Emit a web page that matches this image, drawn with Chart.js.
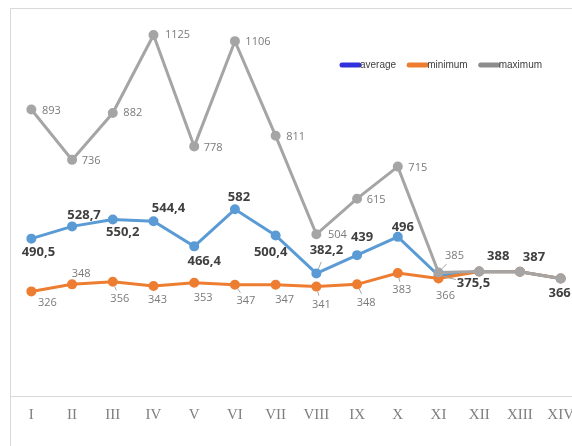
<!DOCTYPE html>
<html>
<head>
<meta charset="utf-8">
<script src="https://cdn.jsdelivr.net/npm/chart.js@4.4.1/dist/chart.umd.min.js"></script>
<style>
  html, body { margin: 0; padding: 0; background: #fff; overflow: hidden; }
</style>
</head>
<body>
<canvas id="lineChart" width="582" height="446"></canvas>
<script>
// categories and values
var categories = ["I", "II", "III", "IV", "V", "VI", "VII", "VIII", "IX", "X", "XI", "XII", "XIII", "XIV"];
var average = [490.5, 528.7, 550.2, 544.4, 466.4, 582, 500.4, 382.2, 439, 496, 375.5, 388, 387, 366];
var minimum = [326, 348, 356, 343, 353, 347, 347, 341, 348, 383, 366, 388, 387, 366];
var maximum = [893, 736, 882, 1125, 778, 1106, 811, 504, 615, 715, 385, 388, 387, 366];

// where each data label sits relative to its point: [dx, dy, leader line]
var avgLabelPos = [[7, 14], [12, -11], [10, 13], [15, -13], [10, 15], [4, -12], [-5, 17],
  [10, -23, true], [5, -18], [5, -10], [35, 8, true], [19, -15], [14, -15], [-1, 15]];
var minLabelPos = [[16, 11], [9, -10], [7, 17, true], [4, 14], [9, 15], [11, 16, true], [9, 15],
  [5, 18, true], [9, 19, true], [4, 17, true], [7, 17], null, null, null];
var maxLabelPos = [[20, 1], [19, 1], [20, 0], [24, 0], [19, 1], [23, 1], [20, 1],
  [21, 1], [19, 1], [20, 1], [16, -17, true], null, null, null];

function fmt(v) {
  return String(v).replace(".", ",");
}

// data labels drawn next to the points, Excel style
var dataLabels = {
  id: "dataLabels",
  afterDatasetsDraw: function(chart) {
    var ctx = chart.ctx;
    var setups = [
      { idx: 0, pos: avgLabelPos, font: "bold 13px 'Open Sans'", color: "#404040" },
      { idx: 1, pos: minLabelPos, font: "11px 'Open Sans'", color: "#7a7a7a" },
      { idx: 2, pos: maxLabelPos, font: "11px 'Open Sans'", color: "#7a7a7a" }
    ];
    ctx.save();
    ctx.textAlign = "center";
    ctx.textBaseline = "middle";
    setups.forEach(function(s) {
      var meta = chart.getDatasetMeta(s.idx);
      var values = chart.data.datasets[s.idx].data;
      meta.data.forEach(function(pt, i) {
        var p = s.pos[i];
        if (!p) return;
        var lx = pt.x + p[0], ly = pt.y + p[1];
        if (p[2]) {
          var len = Math.sqrt(p[0] * p[0] + p[1] * p[1]);
          ctx.strokeStyle = "#a6a6a6";
          ctx.lineWidth = 1;
          ctx.beginPath();
          ctx.moveTo(pt.x + p[0] / len * 5, pt.y + p[1] / len * 5);
          ctx.lineTo(pt.x + p[0] * 0.5, pt.y + p[1] * 0.5);
          ctx.stroke();
        }
        ctx.font = s.font;
        ctx.fillStyle = s.color;
        ctx.fillText(fmt(values[i]), lx, ly);
      });
    });
    ctx.restore();
  }
};

// plot frame and the small legend in the top right corner
var frameAndLegend = {
  id: "frameAndLegend",
  afterDraw: function(chart) {
    var ctx = chart.ctx;
    ctx.save();
    ctx.strokeStyle = "#d9d9d9";
    ctx.lineWidth = 1;
    ctx.beginPath();
    ctx.moveTo(10.5, 446);
    ctx.lineTo(10.5, 8.5);
    ctx.lineTo(chart.width, 8.5);
    ctx.stroke();

    var items = [
      { text: "average", color: "#3030dd" },
      { text: "minimum", color: "#ed7d31" },
      { text: "maximum", color: "#8c8c8c" }
    ];
    var x = 340, y = 65;
    ctx.font = "10px 'Liberation Sans'";
    ctx.textBaseline = "middle";
    ctx.textAlign = "left";
    ctx.lineCap = "round";
    items.forEach(function(it) {
      ctx.strokeStyle = it.color;
      ctx.lineWidth = 5;
      ctx.beginPath();
      ctx.moveTo(x + 2, y);
      ctx.lineTo(x + 19, y);
      ctx.stroke();
      ctx.fillStyle = "#404040";
      ctx.fillText(it.text, x + 20, y + 0.5);
      x += 20 + ctx.measureText(it.text).width + 11;
    });
    ctx.restore();
  }
};

var ctx = document.getElementById("lineChart").getContext("2d");
var chart = new Chart(ctx, {
  type: "line",
  data: {
    labels: categories,
    datasets: [{
      label: "average",
      data: average,
      borderColor: "#5b9bd5",
      backgroundColor: "#5b9bd5",
      borderWidth: 3,
      pointRadius: 3.5,
      tension: 0,
      order: 3
    }, {
      label: "minimum",
      data: minimum,
      borderColor: "#ed7d31",
      backgroundColor: "#ed7d31",
      borderWidth: 3,
      pointRadius: 3.5,
      tension: 0,
      order: 2
    }, {
      label: "maximum",
      data: maximum,
      borderColor: "#a5a5a5",
      backgroundColor: "#a5a5a5",
      borderWidth: 3,
      pointRadius: 3.5,
      tension: 0,
      order: 1
    }]
  },
  options: {
    responsive: false,
    animation: false,
    layout: { autoPadding: false, padding: { left: 11, top: 11, right: 1, bottom: 0 } },
    plugins: {
      legend: { display: false },
      tooltip: { enabled: false }
    },
    scales: {
      x: {
        offset: true,
        // grid hidden, but the tick length still pushes the labels down
        grid: { display: false, drawTicks: true, tickLength: 8 },
        border: { color: "#d9d9d9", width: 1 },
        ticks: {
          padding: 2,
          color: "#7f7f7f",
          font: { family: "'Liberation Serif'", size: 15 },
          maxRotation: 0,
          autoSkip: false
        },
        afterFit: function(scale) {
          scale.height = 50;
          // the last label may run off the edge, as in the original
          scale.paddingLeft = 0;
          scale.paddingRight = 0;
        }
      },
      y: {
        display: false,
        min: 0,
        max: 1200
      }
    }
  },
  plugins: [dataLabels, frameAndLegend]
});
</script>
</body>
</html>
